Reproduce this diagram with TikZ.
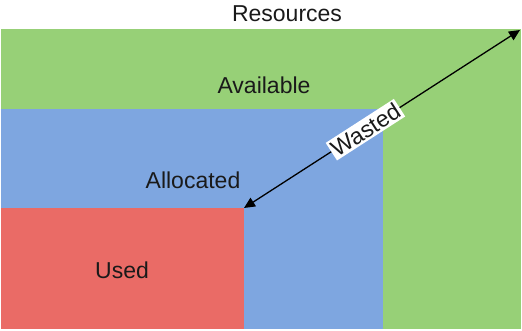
\documentclass[tikz,border=0pt]{standalone}
\usepackage{fontspec}
\setmainfont{Liberation Sans}
\usetikzlibrary{arrows.meta}
\definecolor{gfill}{HTML}{97D077}
\definecolor{bfill}{HTML}{7EA6E0}
\definecolor{rfill}{HTML}{EA6B66}
\definecolor{txt}{HTML}{1A1A1A}
\begin{document}
\begin{tikzpicture}[x=1pt,y=-1pt,
  area/.style={draw=none,inner sep=0pt,outer sep=0pt,anchor=north west},
  lbl/.style={font=\fontsize{23}{26}\selectfont,text=txt,inner sep=0pt},
  wasteline/.style={line width=1.3pt,{Triangle[length=11pt,width=10pt]}-{Triangle[length=11pt,width=10pt]}}]
\useasboundingbox (0,0) rectangle (522,331);
\node[area,fill=gfill,minimum width=520pt,minimum height=300pt] (avail) at (1,29) {};
\node[area,fill=bfill,minimum width=382pt,minimum height=220pt] (alloc) at (1,109) {};
\node[area,fill=rfill,minimum width=243pt,minimum height=121pt] (used) at (1,208) {};
\node[lbl] (tres) at (287,14) {Resources};
\node[lbl] (tavail) at (264,85) {Available};
\node[lbl] (talloc) at (193,180) {Allocated};
\node[lbl] (tused) at (122,270) {Used};
\coordinate (tip) at (520,30);
\draw[wasteline] (used.north east) -- (tip)
  node[pos=0.44,sloped,fill=white,lbl,inner sep=2pt] (wasted) {Wasted};
\end{tikzpicture}
\end{document}
